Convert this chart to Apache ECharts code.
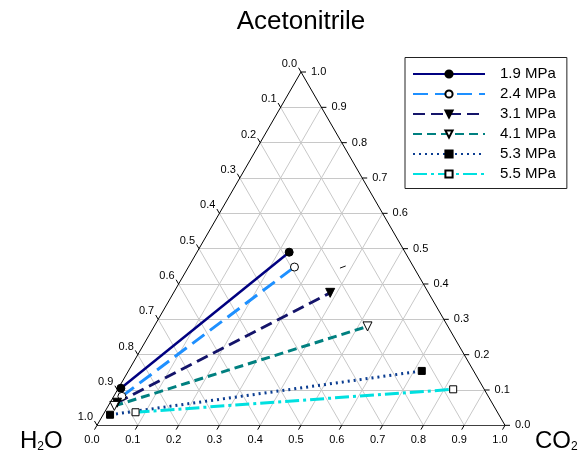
<!DOCTYPE html>
<html>
<head>
<meta charset="utf-8">
<script src="https://cdn.jsdelivr.net/npm/echarts@6/dist/echarts.min.js"></script>
<style>
  html, body { margin: 0; padding: 0; background: #fff; }
  #chart { width: 585px; height: 456px; }
</style>
</head>
<body>
<div id="chart"></div>
<script>
// ---- data (ternary: [CO2 fraction, Acetonitrile fraction]; H2O = 1 - CO2 - ACN) ----
var seriesNames = ['1.9 MPa', '2.4 MPa', '3.1 MPa', '4.1 MPa', '5.3 MPa', '5.5 MPa'];
var tie19 = [[0.006, 0.105], [0.226, 0.490]];
var tie24 = [[0.020, 0.082], [0.260, 0.448]];
var tie31 = [[0.017, 0.064], [0.384, 0.375]];
var tie41 = [[0.015, 0.055], [0.523, 0.280]];
var tie53 = [[0.017, 0.030], [0.719, 0.154]];
var tie55 = [[0.076, 0.037], [0.822, 0.102]];
var strayMark = [[0.373, 0.445], [0.384, 0.451]];
var tickValues = [0, 0.1, 0.2, 0.3, 0.4, 0.5, 0.6, 0.7, 0.8, 0.9, 1.0];
var tickLabels = ['0.0', '0.1', '0.2', '0.3', '0.4', '0.5', '0.6', '0.7', '0.8', '0.9', '1.0'];

var S = Math.sqrt(3) / 2;
function tern(p) { return [p[0] + p[1] / 2, p[1] * S]; }

// grid lines
var gridSegs = [];
for (var k = 1; k < tickValues.length - 1; k++) {
  var v = tickValues[k];
  gridSegs.push({ coords: [tern([0, v]), tern([1 - v, v])] });      // constant ACN
  gridSegs.push({ coords: [tern([v, 0]), tern([v, 1 - v])] });      // constant CO2
  gridSegs.push({ coords: [tern([1 - v, 0]), tern([0, 1 - v])] });  // constant H2O
}
var edgeSegs = [
  { coords: [tern([0, 0]), tern([1, 0])] },
  { coords: [tern([1, 0]), tern([0, 1])] },
  { coords: [tern([0, 1]), tern([0, 0])] }
];

// axis tick data: [x, y, axisIndex, labelIndex]
var tickData = [];
tickValues.forEach(function (v, i) {
  var b = tern([v, 0]);          // bottom: CO2
  tickData.push([b[0], b[1], 0, i]);
  var l = tern([0, 1 - v]);      // left: H2O
  tickData.push([l[0], l[1], 1, i]);
  var r = tern([1 - v, v]);      // right: Acetonitrile
  tickData.push([r[0], r[1], 2, i]);
});

var FONT = '"Liberation Sans", Arial, sans-serif';
var labelFont = '11px ' + FONT;

function tieSeries(name, pts, color, width, dash, symbol, rotate, filled, size) {
  return {
    name: name,
    type: 'line',
    data: pts.map(tern),
    symbol: symbol,
    symbolSize: size,
    symbolRotate: rotate,
    showAllSymbol: true,
    z: 5,
    lineStyle: { color: color, width: width, type: dash, cap: 'butt' },
    itemStyle: { color: filled ? '#000' : '#fff', borderColor: '#000', borderWidth: 1, opacity: 1 },
    emphasis: { disabled: true },
    animation: false
  };
}

var subRich = {
  a: { fontSize: 24, fontFamily: FONT, verticalAlign: 'bottom', lineHeight: 26, color: '#000' },
  s: { fontSize: 12, fontFamily: FONT, verticalAlign: 'bottom', lineHeight: 14, color: '#000' }
};

var chart = echarts.init(document.getElementById('chart'), null, { renderer: 'canvas' });
chart.setOption({
  animation: false,
  backgroundColor: '#fff',
  grid: { left: 97, top: 72, width: 408, height: 408 * S },
  xAxis: { type: 'value', min: 0, max: 1, show: false },
  yAxis: { type: 'value', min: 0, max: S, show: false },
  legend: {
    data: seriesNames,
    orient: 'vertical',
    left: 405,
    top: 57.5,
    padding: [9, 11, 7, 7],
    itemWidth: 72,
    itemHeight: 9,
    itemGap: 5,
    borderColor: '#222',
    borderWidth: 1,
    backgroundColor: '#fff',
    selectedMode: false,
    textStyle: { fontFamily: FONT, fontSize: 15, color: '#000', lineHeight: 14, padding: [0, 0, 0, 10] }
  },
  graphic: [
    { type: 'text', x: 301, y: 22, style: { text: 'Acetonitrile', align: 'center', verticalAlign: 'middle', font: '26px ' + FONT, fill: '#000' } },
    { type: 'text', x: 20, y: 453, style: { text: '{a|H}{s|2}{a|O}', verticalAlign: 'bottom', align: 'left', rich: subRich } },
    { type: 'text', x: 535, y: 453, style: { text: '{a|CO}{s|2}', verticalAlign: 'bottom', align: 'left', rich: subRich } }
  ],
  series: [
    { type: 'lines', coordinateSystem: 'cartesian2d', data: gridSegs, silent: true, z: 1,
      lineStyle: { color: '#c8c8c8', width: 1, opacity: 1 }, animation: false },
    { type: 'lines', coordinateSystem: 'cartesian2d', data: edgeSegs, silent: true, z: 2,
      lineStyle: { color: '#000', width: 1, opacity: 1 }, animation: false },
    { type: 'lines', coordinateSystem: 'cartesian2d', data: [{ coords: strayMark.map(tern) }], silent: true, z: 2,
      lineStyle: { color: '#111', width: 1, opacity: 1 }, animation: false },
    {
      type: 'custom', silent: true, z: 3, data: tickData, animation: false,
      renderItem: function (params, api) {
        var p = api.coord([api.value(0), api.value(1)]);
        var ax = api.value(2), li = api.value(3);
        var d, tx, ty, align, va;
        if (ax === 0) { d = [-2.5, 4.3]; tx = p[0] - 5; ty = p[1] + 15; align = 'center'; va = 'middle'; }
        else if (ax === 1) { d = [-2.5, -4.3]; tx = p[0] - 4; ty = p[1] - 8; align = 'right'; va = 'middle'; }
        else { d = [5, 0]; tx = p[0] + 10; ty = p[1]; align = 'left'; va = 'middle'; }
        return { type: 'group', children: [
          { type: 'line', shape: { x1: p[0], y1: p[1], x2: p[0] + d[0], y2: p[1] + d[1] }, style: { stroke: '#000', lineWidth: 1 } },
          { type: 'text', style: { x: tx, y: ty, text: tickLabels[li], align: align, verticalAlign: va, font: labelFont, fill: '#000' } }
        ] };
      }
    },
    tieSeries(seriesNames[0], tie19, '#000080', 2.5, 'solid', 'circle', 0, true, 8),
    tieSeries(seriesNames[1], tie24, '#1E90FF', 3, [15, 7], 'circle', 0, false, 8),
    tieSeries(seriesNames[2], tie31, '#14146a', 3, [12, 6], 'triangle', 180, true, 9),
    tieSeries(seriesNames[3], tie41, '#008080', 3, [9, 5], 'triangle', 180, false, 9),
    tieSeries(seriesNames[4], tie53, '#0b3d91', 3, [2, 4], 'rect', 0, true, 7),
    tieSeries(seriesNames[5], tie55, '#00E0E0', 3, [14, 4, 3, 4], 'rect', 0, false, 7)
  ]
});
</script>
</body>
</html>
